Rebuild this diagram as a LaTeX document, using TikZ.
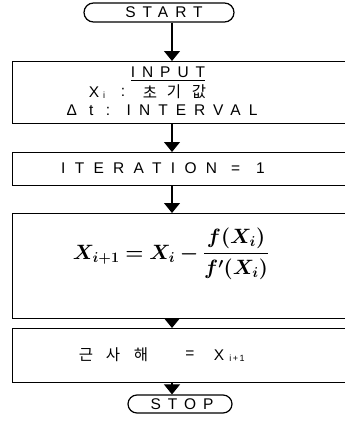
\documentclass[tikz,border=0pt]{standalone}
\usepackage{fontspec}
\usepackage{amsmath}
\usepackage{bm}
\usetikzlibrary{arrows.meta,shapes.misc}
\newfontfamily\spc[LetterSpace=45]{Liberation Sans}
\newfontfamily\spcd[LetterSpace=52]{Liberation Sans}
\newfontfamily\spcw[LetterSpace=60]{Liberation Sans}
\newfontfamily\kor{Noto Sans CJK KR}
\tikzset{
  term/.style={rounded rectangle, draw, line width=1.2pt, inner sep=0pt},
  box/.style={rectangle, draw, line width=1.2pt, anchor=north west, inner sep=0pt},
  lbl/.style={inner sep=0pt, font=\spc\fontsize{15.5}{17}\selectfont},
  dlbl/.style={inner sep=0pt, font=\spcd\fontsize{15.5}{17}\selectfont},
  wlbl/.style={inner sep=0pt, font=\spcw\fontsize{15.5}{17}\selectfont},
  ko/.style={inner sep=0pt, font=\kor\fontsize{15.5}{17}\selectfont},
  sub/.style={inner sep=0pt, font=\spc\fontsize{9}{10}\selectfont},
  arr/.style={line width=1.1pt, -{Triangle[width=16pt,length=10pt]}}
}
\begin{document}
\begin{tikzpicture}[x=1pt,y=-1pt]
\useasboundingbox (0,0) rectangle (345,434);
% terminals
\node[term, minimum width=150pt, minimum height=19pt] (start) at (159,12.5) {};
\node[lbl] (starttxt) at (164,12.5) {START};
% boxes
\node[box, minimum width=360pt, minimum height=62pt] (input) at (12,61) {};
\node[box, minimum width=360pt, minimum height=33pt] (iter) at (12,152) {};
\node[box, minimum width=360pt, minimum height=105pt] (newton) at (12,213) {};
\node[box, minimum width=360pt, minimum height=54pt] (result) at (12,328) {};
\node[term, minimum width=104pt, minimum height=18pt] (stop) at (180,404) {};
% INPUT box texts
\node[lbl] (inputtxt) at (168,74) {\underline{INPUT}};
\node[lbl] (xx) at (94,92) {X};
\node[sub] (xsub) at (104,95) {i};
\node[lbl] (xcolon) at (123,92) {:};
\node[ko] (k1) at (150,92) {초};
\node[ko] (k2) at (174,92) {기};
\node[ko] (k3) at (199,92) {값};
\node[dlbl] (dt) at (162,110) {Δ t : INTERVAL};
% iteration
\node[wlbl] (itertxt) at (163,168) {ITERATION\hspace{14pt}=\hspace{16pt}1};
% formula
\node[inner sep=0pt, font=\fontsize{21}{24}\selectfont] (formula) at (171,254)
  {$\bm{X_{i+1} = X_i - \dfrac{f(X_i)}{f'(X_i)}}$};
% result
\node[ko] (r1) at (86,355) {근};
\node[ko] (r2) at (113,355) {사};
\node[ko] (r3) at (141,355) {해};
\node[lbl] (req) at (190,355) {=};
\node[lbl] (rx) at (219,355) {X};
\node[sub] (rsub) at (237,358) {i\,+\,1};
\node[lbl] (stoptxt) at (182,404) {STOP};
% arrows
\coordinate (ax) at (172,0);
\draw[arr] (start.south -| ax) -- (input.north -| ax);
\draw[arr] (input.south -| ax) -- (iter.north -| ax);
\draw[arr] (iter.south -| ax) -- (newton.north -| ax);
\draw[arr] (newton.south -| ax) -- (result.north -| ax);
\draw[arr] (result.south -| ax) -- (stop.north -| ax);
\end{tikzpicture}
\end{document}
